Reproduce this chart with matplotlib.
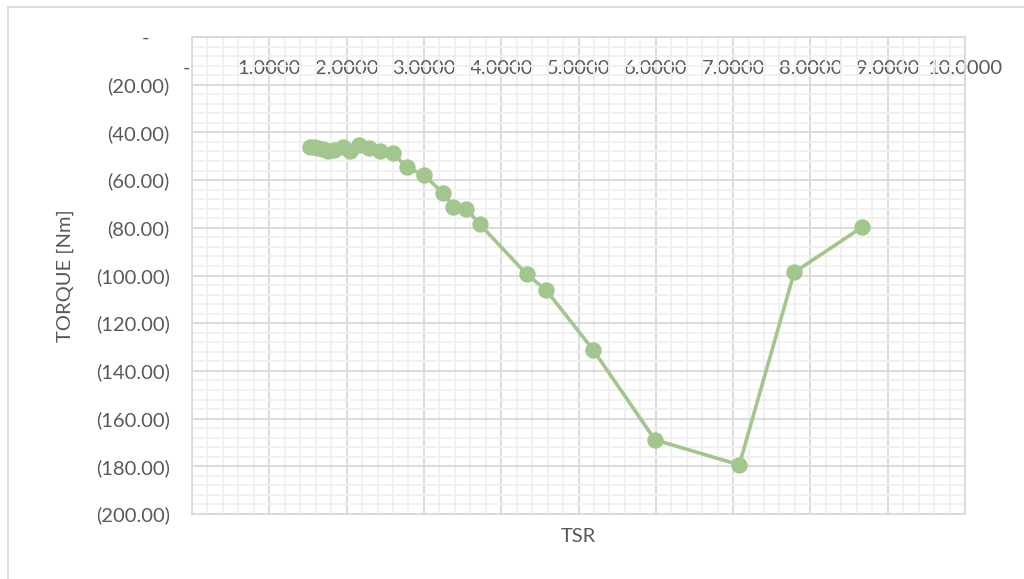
import matplotlib
matplotlib.use("Agg")
import matplotlib.pyplot as plt
from matplotlib.patches import Rectangle
from matplotlib.ticker import MultipleLocator, FixedLocator

tsr = [1.53, 1.58, 1.63, 1.70, 1.76, 1.84, 1.95, 2.05, 2.16, 2.29, 2.43, 2.60,
       2.78, 3.00, 3.25, 3.38, 3.55, 3.72, 4.33, 4.58, 5.19, 5.99, 7.08, 7.79, 8.67]
torque = [-46.3, -46.2, -46.5, -46.9, -47.6, -47.4, -46.1, -47.8, -45.1, -46.5, -48.0, -48.8,
          -54.6, -57.9, -65.5, -71.1, -72.1, -78.4, -99.5, -106.1, -131.2, -168.9, -179.4, -98.7, -79.7]

x_ticks = [0, 1, 2, 3, 4, 5, 6, 7, 8, 9, 10]
y_ticks = [0, -20, -40, -60, -80, -100, -120, -140, -160, -180, -200]

def fmt_x(v):
    return "-  " if v == 0 else f"{v:.4f}"

def fmt_y(v):
    return "-    " if v == 0 else f"({abs(v):.2f})"

plt.rcParams['font.family'] = ['Lato', 'DejaVu Sans']
txt = "#595959"
grid_major = "#D9D9D9"
grid_minor = "#F0F0F0"
green = "#A2C68E"
fs = 14.5

fig = plt.figure(figsize=(10.24, 5.79), dpi=100)
ax = fig.add_axes([192/1024, 1 - 514/579, (965-192)/1024, (514-37)/579])

ax.plot(tsr, torque, color=green, lw=2.6, marker='o', ms=10.8, zorder=3)

ax.set_xlim(0, 10)
ax.set_ylim(-200, 0)

ax.xaxis.set_major_locator(FixedLocator(x_ticks))
ax.xaxis.set_minor_locator(MultipleLocator(0.2))
ax.yaxis.set_major_locator(FixedLocator(y_ticks))
ax.yaxis.set_minor_locator(MultipleLocator(4))
ax.set_xticklabels([fmt_x(v) for v in x_ticks])
ax.set_yticklabels([fmt_y(v) for v in y_ticks])

ax.grid(which='minor', color=grid_minor, lw=1.3, zorder=0)
ax.grid(which='major', color=grid_major, lw=1.3, zorder=1)
ax.set_axisbelow(True)

ax.tick_params(axis='x', which='both', length=0, labeltop=True, labelbottom=False,
               pad=-29, labelsize=fs, labelcolor=txt)
ax.tick_params(axis='y', which='both', length=0, pad=16, labelsize=fs, labelcolor=txt)

for s in ax.spines.values():
    s.set_color(grid_major)
    s.set_linewidth(1.3)

ax.set_xlabel("TSR", fontsize=fs, color=txt, labelpad=10)
ax.set_ylabel("TORQUE [Nm]", fontsize=fs, color=txt, labelpad=16)

fig.patches.append(Rectangle((8/1024, -0.1), 1.1, 1.1 - 7/579,
                             transform=fig.transFigure, fill=False,
                             edgecolor=grid_major, lw=1.3))

fig.savefig("out.png", dpi=100)
